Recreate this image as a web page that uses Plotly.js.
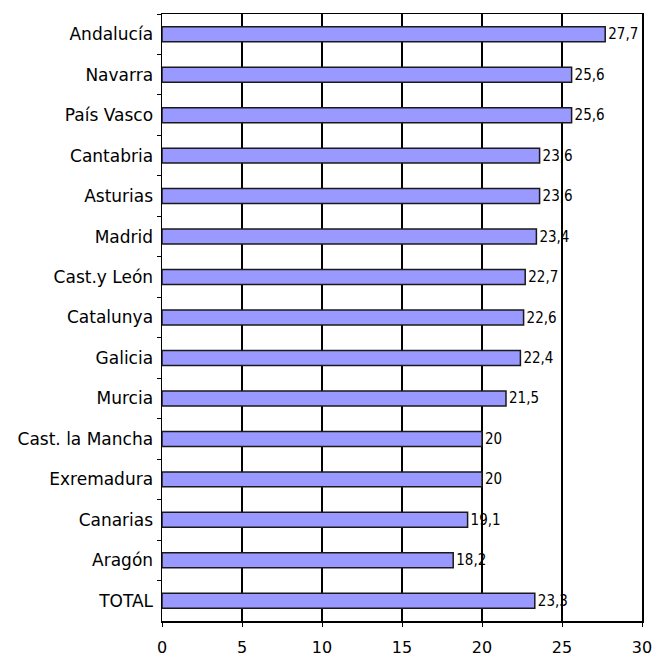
<!DOCTYPE html>
<html>
<head>
<meta charset="utf-8">
<script src="https://cdn.plot.ly/plotly-3.0.1.min.js"></script>
<style>html,body{margin:0;padding:0;background:#fff;}#chart{width:657px;height:656px;}</style>
</head>
<body>
<div id="chart"></div>
<script>
const categories = ["Andalucía","Navarra","País Vasco","Cantabria","Asturias","Madrid","Cast.y León","Catalunya","Galicia","Murcia","Cast. la Mancha","Exremadura","Canarias","Aragón","TOTAL"];
const values = [27.7,25.6,25.6,23.6,23.6,23.4,22.7,22.6,22.4,21.5,20,20,19.1,18.2,23.3];
const valueLabels = ["27,7","25,6","25,6","23,6","23,6","23,4","22,7","22,6","22,4","21,5","20","20","19,1","18,2","23,3"];
const xTicks = [0,5,10,15,20,25,30];

const trace = {
  type: 'bar',
  orientation: 'h',
  x: values,
  y: categories,
  text: valueLabels,
  textposition: 'outside',
  constraintext: 'none',
  cliponaxis: false,
  textfont: {family: 'DejaVu Sans Condensed, DejaVu Sans', size: 15, color: '#000'},
  marker: {color: '#9999FF', line: {color: '#1a1a1a', width: 1.5}},
  hoverinfo: 'none'
};

const layout = {
  width: 657, height: 656,
  margin: {l: 162, r: 15, t: 14, b: 35},
  paper_bgcolor: '#fff', plot_bgcolor: '#fff',
  showlegend: false,
  bargap: 0.63,
  font: {family: 'DejaVu Sans', size: 16, color: '#000'},
  xaxis: {
    range: [0, 30], tickvals: xTicks, ticktext: xTicks.map(String),
    showgrid: true, gridcolor: '#000', gridwidth: 1.5,
    showline: true, linecolor: '#000', linewidth: 1.5, mirror: true,
    ticks: 'outside', ticklen: 4, tickcolor: '#000',
    zeroline: false, tickfont: {size: 16}, ticklabelstandoff: 7
  },
  yaxis: {
    type: 'category', autorange: 'reversed',
    showline: true, linecolor: '#000', linewidth: 1.5, mirror: true,
    ticks: 'outside', tickson: 'boundaries', ticklen: 4, tickcolor: '#000',
    showgrid: false, zeroline: false, tickfont: {size: 17}, ticklabelstandoff: 4
  }
};

Plotly.newPlot('chart', [trace], layout, {displayModeBar: false, staticPlot: true});
</script>
</body>
</html>
